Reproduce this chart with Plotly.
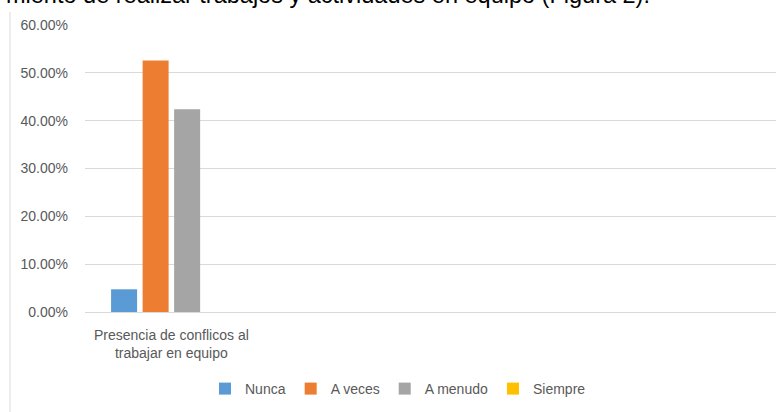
import plotly.graph_objects as go

categories = ["Presencia de conflicos al<br>trabajar en equipo"]
series_names = ["Nunca", "A veces", "A menudo", "Siempre"]
series_values = [[0.0475], [0.526], [0.424], [0.0]]
series_colors = ["#5B9BD5", "#ED7D31", "#A5A5A5", "#FFC000"]
y_tick_values = [0, 0.1, 0.2, 0.3, 0.4, 0.5, 0.6]
y_tick_labels = ["0.00%", "10.00%", "20.00%", "30.00%", "40.00%", "50.00%", "60.00%"]
header_text = "miento de realizar trabajos y actividades en equipo (Figura 2)."

fig = go.Figure()
for name, vals, col in zip(series_names, series_values, series_colors):
    fig.add_trace(go.Bar(
        x=list(range(len(categories))), y=vals, name=name,
        marker=dict(color=col, line=dict(width=0)),
    ))

font_family = "Liberation Sans, Arial, sans-serif"
W, H = 780, 412
L, R, T, B = 85, 4, 25, 100
ph = H - T - B
pw = W - L - R

def px_to_paper_x(px):
    return (px - L) / pw

def px_to_paper_y(py):
    return (H - B - py) / ph

fig.update_layout(
    width=W, height=H,
    margin=dict(l=L, r=R, t=T, b=B, autoexpand=False),
    paper_bgcolor="white", plot_bgcolor="white",
    barmode="group", bargap=0.27, bargroupgap=0.175,
    font=dict(family=font_family, size=14, color="#595959"),
    showlegend=True,
    legend=dict(orientation="h", x=px_to_paper_x(398), xanchor="center",
                y=px_to_paper_y(389), yanchor="middle",
                font=dict(size=14, color="#595959"), traceorder="normal"),
    xaxis=dict(range=[-0.5, 3.5], tickmode="array", tickvals=list(range(len(categories))),
               ticktext=categories, showgrid=False, zeroline=False, showline=False,
               ticks="", ticklabelstandoff=13, fixedrange=True),
    yaxis=dict(range=[0, 0.6], tickmode="array", tickvals=y_tick_values, ticktext=y_tick_labels,
               showgrid=True, gridcolor="#D9D9D9", gridwidth=1, zeroline=True,
               zerolinecolor="#D9D9D9", zerolinewidth=1, showline=False, ticks="",
               ticklabelstandoff=16, fixedrange=True),
    shapes=[dict(type="line", xref="paper", yref="paper",
                 x0=px_to_paper_x(10), x1=px_to_paper_x(10),
                 y0=px_to_paper_y(12), y1=px_to_paper_y(412),
                 line=dict(color="#D9D9D9", width=1))],
    annotations=[dict(text=header_text, xref="paper", yref="paper",
                      x=px_to_paper_x(4), xanchor="left",
                      y=px_to_paper_y(9.5), yanchor="bottom", showarrow=False,
                      font=dict(family=font_family, size=23.5, color="#000000"))],
)

fig.write_html(
    "out.html",
    config={"displayModeBar": False},
    post_script="document.body.style.margin='0';document.body.style.overflow='hidden';",
)
